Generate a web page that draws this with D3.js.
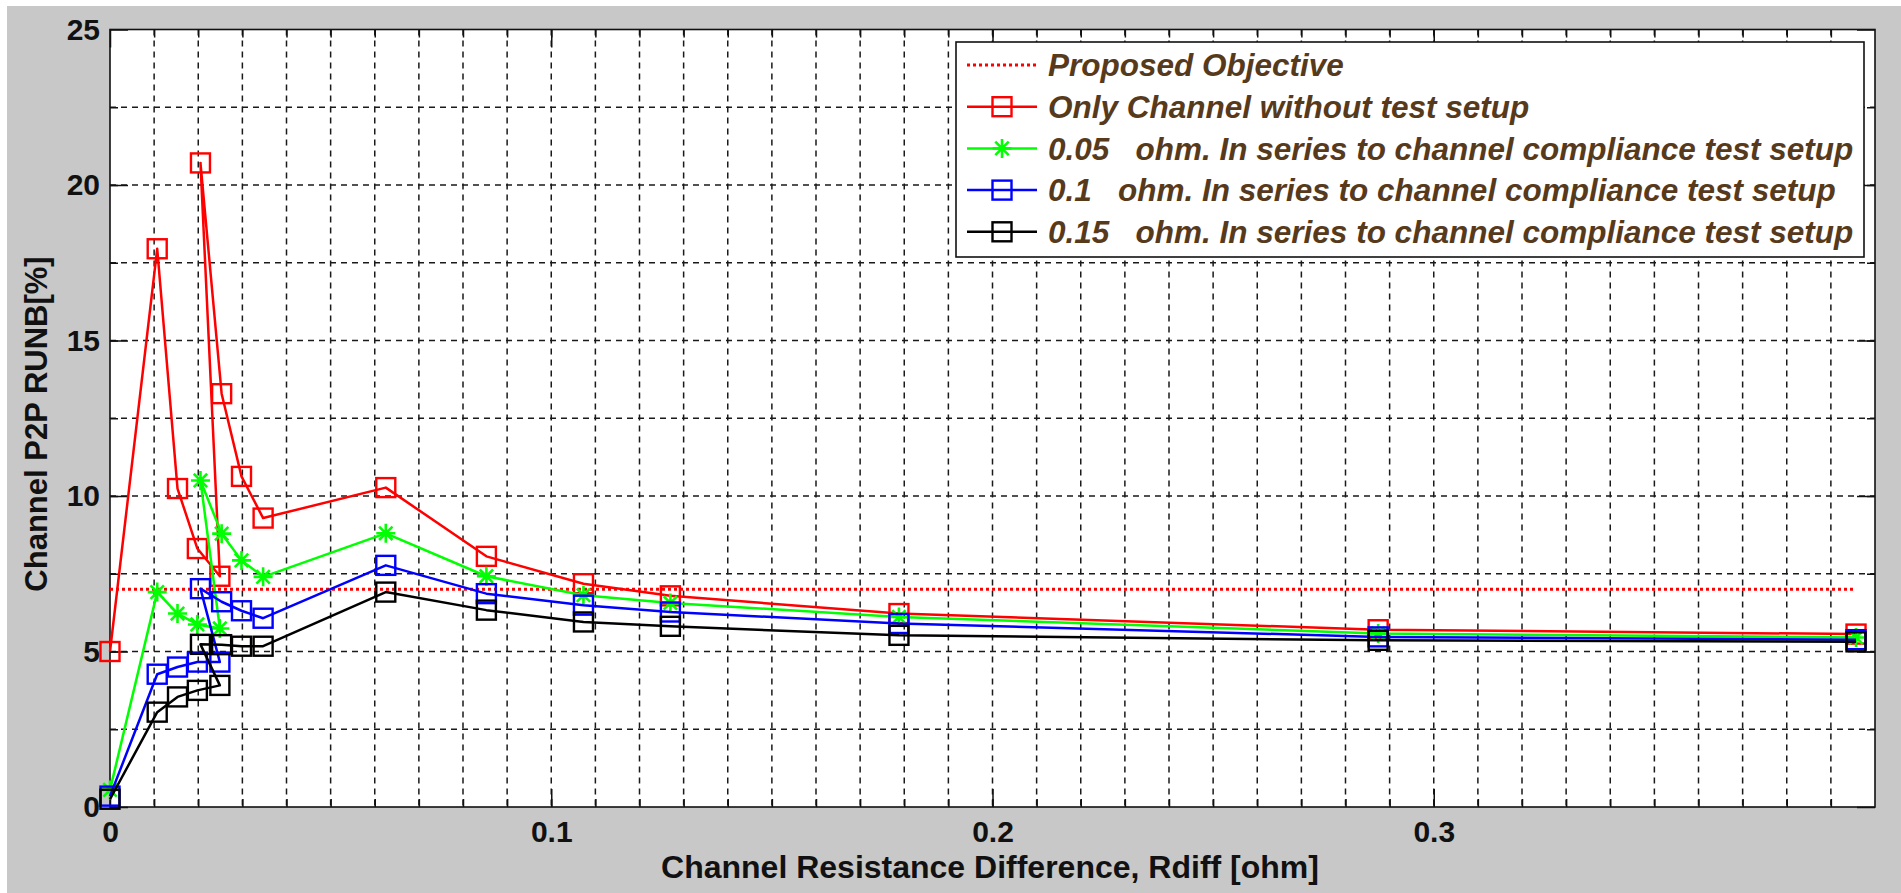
<!DOCTYPE html>
<html>
<head>
<meta charset="utf-8">
<script src="https://cdn.jsdelivr.net/npm/d3@7/dist/d3.min.js"></script>
<style>
  html, body { margin: 0; padding: 0; background: #fff; }
  svg { display: block; }
  text { font-family: "Liberation Sans", Arial, sans-serif; font-weight: bold; }
</style>
</head>
<body>
<svg id="chart" width="1901" height="893"></svg>
<script>
// Rdiff values [ohm], in plotting order (the sweep goes back after the 0.025 point)
const xValues = [0, 0.0107, 0.0153, 0.0198, 0.0249, 0.0205, 0.0253, 0.0298, 0.0347,
                 0.0625, 0.0853, 0.1073, 0.127, 0.1788, 0.2874, 0.3957];

const onlyChannel = [5.0, 17.95, 10.24, 8.31, 7.42, 20.71, 13.29, 10.63, 9.29,
                     10.27, 8.06, 7.18, 6.79, 6.22, 5.70, 5.56];
const series005 = [0.55, 6.91, 6.22, 5.87, 5.74, 10.5, 8.79, 7.93, 7.40,
                   8.8, 7.42, 6.81, 6.56, 6.11, 5.58, 5.45];
const series01 = [0.35, 4.27, 4.50, 4.66, 4.66, 7.02, 6.6, 6.31, 6.07,
                  7.77, 6.86, 6.49, 6.27, 5.90, 5.47, 5.38];
const series015 = [0.25, 3.05, 3.54, 3.75, 3.91, 5.23, 5.22, 5.17, 5.17,
                   6.91, 6.33, 5.95, 5.81, 5.52, 5.36, 5.31];

const objectiveValue = 7;

const xTickValues = [0, 0.1, 0.2, 0.3];
const yTickValues = [0, 5, 10, 15, 20, 25];

const legendLabels = [
  "Proposed Objective",
  "Only Channel without test setup",
  "0.05   ohm. In series to channel compliance test setup",
  "0.1   ohm. In series to channel compliance test setup",
  "0.15   ohm. In series to channel compliance test setup"
];

const svg = d3.select("#chart");
const plotLeft = 110, plotRight = 1875, plotTop = 29.5, plotBottom = 807;

// gray figure background
svg.append("rect").attr("x", 7).attr("y", 6)
  .attr("width", 1901 - 7).attr("height", 893 - 6).attr("fill", "#c8c8c8");
svg.append("rect").attr("x", plotLeft).attr("y", plotTop)
  .attr("width", plotRight - plotLeft).attr("height", plotBottom - plotTop).attr("fill", "#fff");

const x = d3.scaleLinear().domain([0, 0.4]).range([plotLeft, plotRight]);
const y = d3.scaleLinear().domain([0, 25]).range([plotBottom, plotTop]);

// grid, every 0.01 and every 2.5
const xMinor = d3.range(1, 40).map(i => i / 100);
const yMinor = d3.range(1, 10).map(i => i * 2.5);

svg.append("g").selectAll("line").data(xMinor).join("line")
  .attr("x1", d => x(d)).attr("x2", d => x(d))
  .attr("y1", plotTop).attr("y2", plotBottom)
  .attr("stroke", "#1a1a1a").attr("stroke-width", 1.5)
  .attr("stroke-dasharray", "6,5");

svg.append("g").selectAll("line").data(yMinor).join("line")
  .attr("x1", plotLeft).attr("x2", plotRight)
  .attr("y1", d => y(d)).attr("y2", d => y(d))
  .attr("stroke", "#1a1a1a").attr("stroke-width", 1.5)
  .attr("stroke-dasharray", "6,5");

// axes with inward ticks
function styleAxis(g) {
  g.select(".domain").remove();
  g.selectAll(".tick line").attr("stroke", "#111").attr("stroke-width", 1.5);
  g.selectAll("text").attr("font-size", 30).attr("fill", "#111")
    .attr("font-family", "'Liberation Sans', Arial, sans-serif").attr("font-weight", "bold");
}

svg.append("g").attr("transform", `translate(0,${plotBottom})`)
  .call(d3.axisBottom(x).tickValues(xTickValues).tickSize(-18).tickPadding(14)
    .tickFormat(d => d === 0 ? "0" : String(d)))
  .call(styleAxis);
svg.append("g").attr("transform", `translate(0,${plotBottom})`)
  .call(d3.axisBottom(x).tickValues(xMinor).tickSize(-8).tickFormat(""))
  .call(styleAxis);
svg.append("g").attr("transform", `translate(0,${plotTop})`)
  .call(d3.axisTop(x).tickValues(xTickValues).tickSize(-18).tickFormat(""))
  .call(styleAxis);
svg.append("g").attr("transform", `translate(0,${plotTop})`)
  .call(d3.axisTop(x).tickValues(xMinor).tickSize(-8).tickFormat(""))
  .call(styleAxis);

svg.append("g").attr("transform", `translate(${plotLeft},0)`)
  .call(d3.axisLeft(y).tickValues(yTickValues).tickSize(-18).tickPadding(10))
  .call(styleAxis);
svg.append("g").attr("transform", `translate(${plotLeft},0)`)
  .call(d3.axisLeft(y).tickValues(yMinor).tickSize(-8).tickFormat(""))
  .call(styleAxis);
svg.append("g").attr("transform", `translate(${plotRight},0)`)
  .call(d3.axisRight(y).tickValues(yTickValues).tickSize(-18).tickFormat(""))
  .call(styleAxis);
svg.append("g").attr("transform", `translate(${plotRight},0)`)
  .call(d3.axisRight(y).tickValues(yMinor).tickSize(-8).tickFormat(""))
  .call(styleAxis);

// plot box
svg.append("rect").attr("x", plotLeft).attr("y", plotTop)
  .attr("width", plotRight - plotLeft).attr("height", plotBottom - plotTop)
  .attr("fill", "none").attr("stroke", "#111").attr("stroke-width", 1.6);

// objective line
svg.append("line")
  .attr("x1", x(xValues[0])).attr("x2", x(d3.max(xValues)))
  .attr("y1", y(objectiveValue)).attr("y2", y(objectiveValue))
  .attr("stroke", "#ff0000").attr("stroke-width", 3).attr("stroke-dasharray", "3,3");

const seriesList = [
  { values: onlyChannel, color: "#ff0000", marker: "square" },
  { values: series005, color: "#00ff00", marker: "star" },
  { values: series01, color: "#0000ff", marker: "square" },
  { values: series015, color: "#000000", marker: "square" }
];

const line = d3.line().x((d, i) => x(xValues[i])).y(d => y(d));

function drawMarker(g, type, cx, cy, color) {
  if (type === "square") {
    g.append("rect").attr("x", cx - 9.5).attr("y", cy - 9.5)
      .attr("width", 19).attr("height", 19)
      .attr("fill", "none").attr("stroke", color).attr("stroke-width", 2.4);
  } else {
    const r = 9.5, d = 6.7;
    g.append("path")
      .attr("d", `M${cx - r},${cy}H${cx + r}M${cx},${cy - r}V${cy + r}` +
        `M${cx - d},${cy - d}L${cx + d},${cy + d}M${cx - d},${cy + d}L${cx + d},${cy - d}`)
      .attr("stroke", color).attr("stroke-width", 2.6).attr("fill", "none");
  }
}

seriesList.forEach(s => {
  const g = svg.append("g");
  g.append("path").datum(s.values).attr("d", line)
    .attr("fill", "none").attr("stroke", s.color).attr("stroke-width", 2.5)
    .attr("stroke-linejoin", "round");
  s.values.forEach((v, i) => drawMarker(g, s.marker, x(xValues[i]), y(v), s.color));
});

// axis titles
svg.append("text").attr("x", 990).attr("y", 878).attr("text-anchor", "middle")
  .attr("font-size", 32).attr("fill", "#111")
  .text("Channel Resistance Difference, Rdiff [ohm]");
svg.append("text").attr("transform", "translate(47,424) rotate(-90)")
  .attr("text-anchor", "middle").attr("font-size", 31).attr("fill", "#111")
  .text("Channel P2P RUNB[%]");

// legend
const legend = svg.append("g");
legend.append("rect").attr("x", 956).attr("y", 42).attr("width", 908).attr("height", 215)
  .attr("fill", "#fff").attr("stroke", "#111").attr("stroke-width", 1.6);

const legendItems = [
  { color: "#ff0000", marker: null, dash: "3,3" },
  { color: "#ff0000", marker: "square" },
  { color: "#00ff00", marker: "star" },
  { color: "#0000ff", marker: "square" },
  { color: "#000000", marker: "square" }
];

legendItems.forEach((item, i) => {
  const cy = 65 + i * 41.7;
  legend.append("line").attr("x1", 967).attr("x2", 1037).attr("y1", cy).attr("y2", cy)
    .attr("stroke", item.color).attr("stroke-width", item.dash ? 3 : 2.5)
    .attr("stroke-dasharray", item.dash || null);
  if (item.marker) drawMarker(legend, item.marker, 1002, cy, item.color);
  legend.append("text").attr("x", 1048).attr("y", cy).attr("dy", "0.36em")
    .attr("font-size", 31.5).attr("font-style", "italic").attr("fill", "#573a1c")
    .style("white-space", "pre")
    .text(legendLabels[i]);
});
</script>
</body>
</html>
